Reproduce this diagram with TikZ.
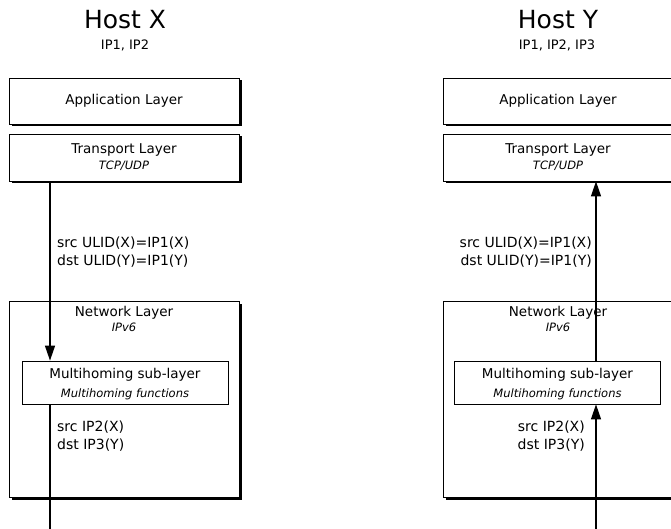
\documentclass[tikz,border=0pt]{standalone}
\usepackage{fontspec}
\setmainfont{DejaVu Sans}
\usetikzlibrary{arrows.meta,shadows}
\newcommand{\layersub}[1]{{\fontsize{11.5}{14}\selectfont\itshape #1}}
\begin{document}
\begin{tikzpicture}[x=1pt,y=-1pt,
    layer/.style={draw,fill=white,line width=0.8pt,minimum width=230pt,inner sep=0pt,align=center,
      font=\fontsize{13.5}{16}\selectfont,
      drop shadow={shadow xshift=2.5pt,shadow yshift=-2.5pt,fill=black,opacity=1}},
    sublayer/.style={draw,fill=white,line width=0.8pt,minimum width=206pt,minimum height=43pt,
      inner sep=0pt,align=center,text depth=0pt,font=\fontsize{13.5}{19}\selectfont},
    flow/.style={line width=1.2pt,-{Triangle[width=10pt,length=15pt]}},
    addr/.style={inner sep=0pt,font=\fontsize{14}{18}\selectfont},
    host/.style={inner sep=0pt,font=\fontsize{25}{28}\selectfont},
    hostip/.style={inner sep=0pt,font=\fontsize{13}{15}\selectfont}]
  \useasboundingbox (0,0) rectangle (671,529);
  \clip (0,0) rectangle (671,529);
  % Host X
  \node[host] (hx) at (125,20) {Host X};
  \node[hostip] (hxip) at (125,45) {IP1, IP2};
  \node[layer,minimum height=46pt] (xapp) at (124,101) {Application Layer};
  \node[layer,minimum height=47pt] (xtr) at (124,157.5) {Transport Layer\\\layersub{TCP/UDP}};
  \node[layer,minimum height=196pt,label={[anchor=north,align=center,inner sep=0pt,yshift=-5pt,
      font=\fontsize{13.5}{15}\selectfont]north:Network Layer\\\layersub{IPv6}}] (xnet) at (124,399) {};
  \node[sublayer] (xmh) at (125,382.5) {Multihoming sub-layer\\\layersub{Multihoming functions}};
  \node[addr,anchor=west,align=left] (xulid) at (57,252) {src ULID(X)=IP1(X)\\dst ULID(Y)=IP1(Y)};
  \node[addr,anchor=west,align=left] (xlocs) at (57,436.5) {src IP2(X)\\dst IP3(Y)};
  \coordinate (xwire) at (50,529);
  \draw[flow] (xtr.south -| xwire) -- (xmh.north -| xwire);
  \draw[line width=1.2pt] (xmh.south -| xwire) -- (xwire);
  % Host Y
  \node[host] (hy) at (558,20) {Host Y};
  \node[hostip] (hyip) at (557,45) {IP1, IP2, IP3};
  \node[layer,minimum height=46pt] (yapp) at (558,101) {Application Layer};
  \node[layer,minimum height=47pt] (ytr) at (558,157.5) {Transport Layer\\\layersub{TCP/UDP}};
  \node[layer,minimum height=196pt,label={[anchor=north,align=center,inner sep=0pt,yshift=-5pt,
      font=\fontsize{13.5}{15}\selectfont]north:Network Layer\\\layersub{IPv6}}] (ynet) at (558,399) {};
  \node[sublayer] (ymh) at (557.5,382.5) {Multihoming sub-layer\\\layersub{Multihoming functions}};
  \node[addr,anchor=east,align=right] (yulid) at (592,252) {src ULID(X)=IP1(X)\\dst ULID(Y)=IP1(Y)};
  \node[addr,anchor=east,align=right] (ylocs) at (585,436.5) {src IP2(X)\\dst IP3(Y)};
  \coordinate (ywire) at (596,529);
  \draw[flow] (ywire) -- (ymh.south -| ywire);
  \draw[flow] (ymh.north -| ywire) -- (ytr.south -| ywire);
\end{tikzpicture}
\end{document}
